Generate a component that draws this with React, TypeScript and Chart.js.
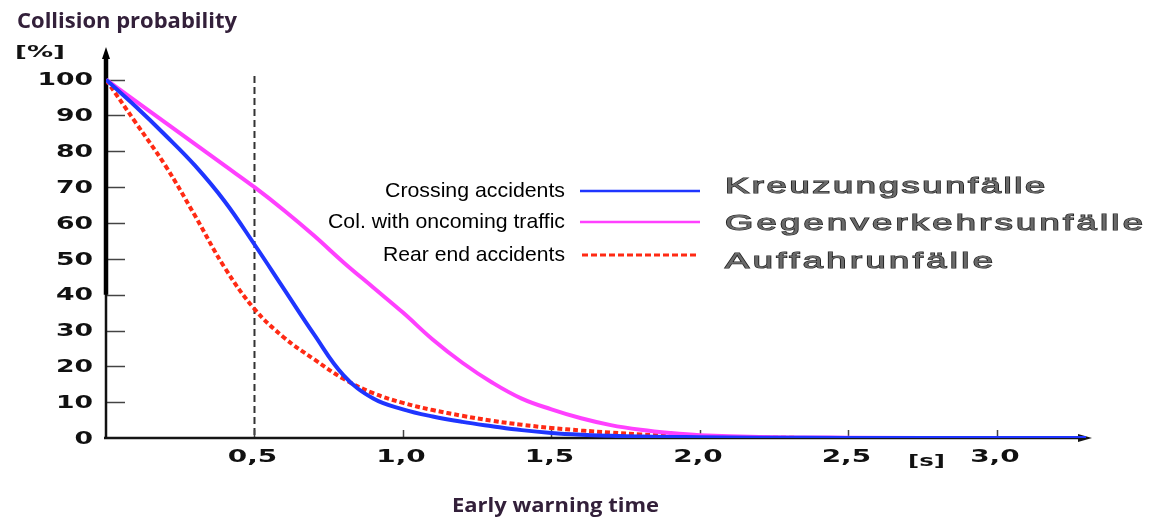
import React, { useEffect, useRef } from 'react';
import { Chart, registerables } from 'chart.js';

Chart.register(...registerables);

// ---- data ----
const timeSec = [0, 0.1, 0.2, 0.3, 0.4, 0.5, 0.6, 0.7, 0.8, 0.9, 1.0, 1.1, 1.2, 1.3, 1.4, 1.5, 1.6, 1.7, 1.8, 1.9, 2.0, 2.2, 2.5, 3.0, 3.3];
const crossingAccidents = [100, 92.5, 84.5, 76, 66, 54, 41.5, 29, 17.5, 11, 8, 6, 4.5, 3.3, 2.2, 1.4, 0.9, 0.6, 0.4, 0.3, 0.2, 0.1, 0, 0, 0];
const oncomingTraffic = [100, 94, 88, 82, 76, 70, 63.5, 56.5, 49, 42, 35, 27.5, 21, 15.5, 11, 8, 5.5, 3.6, 2.3, 1.4, 0.8, 0.3, 0.1, 0, 0];
const rearEndAccidents = [100, 88, 76, 62, 47.5, 36, 28, 22, 16.5, 12.5, 9.8, 7.8, 6.2, 4.8, 3.7, 2.8, 2.1, 1.5, 1.0, 0.6, 0.35, 0.1, 0, 0, 0];

const yTickValues = [0, 10, 20, 30, 40, 50, 60, 70, 80, 90, 100];
const yTickLabels = ['0', '10', '20', '30', '40', '50', '60', '70', '80', '90', '100'];
const xTickValues = [0.5, 1.0, 1.5, 2.0, 2.5, 3.0];
const xTickLabels = ['0,5', '1,0', '1,5', '2,0', '2,5', '3,0'];
const warningMark = 0.5;

const legendEnglish = ['Crossing accidents', 'Col. with oncoming traffic', 'Rear end accidents'];
const legendGerman = ['Kreuzungsunfälle', 'Gegenverkehrsunfälle', 'Auffahrunfälle'];

const chartTitle = 'Collision probability';
const xAxisTitle = 'Early warning time';
const yUnit = '[%]';
const xUnit = '[s]';

const X_MAX = 3.3;
const Y_MAX = 108;

function toPoints(values: number[]) {
  return timeSec.map((t, i) => ({ x: t, y: values[i] }));
}

function fitText(ctx: CanvasRenderingContext2D, text: string, left: number, y: number, width: number) {
  ctx.save();
  ctx.textAlign = 'left';
  const w = ctx.measureText(text).width;
  const s = width / w;
  ctx.translate(left, y);
  ctx.scale(s, 1);
  ctx.fillText(text, 0, 0);
  ctx.restore();
}

function spreadText(ctx: CanvasRenderingContext2D, text: string, left: number, y: number, width: number, scale: number) {
  ctx.save();
  ctx.textAlign = 'left';
  (ctx as any).letterSpacing = '0px';
  const w = ctx.measureText(text).width;
  const n = text.length;
  const ls = (width / scale - w) / (n - 1);
  (ctx as any).letterSpacing = ls.toFixed(2) + 'px';
  ctx.translate(left, y);
  ctx.scale(scale, 1);
  ctx.strokeText(text, 0, 0);
  ctx.fillText(text, 0, 0);
  ctx.restore();
}

function line(ctx: CanvasRenderingContext2D, x1: number, y1: number, x2: number, y2: number) {
  ctx.beginPath();
  ctx.moveTo(x1, y1);
  ctx.lineTo(x2, y2);
  ctx.stroke();
}

const decorPlugin = {
  id: 'decor',
  beforeDatasetsDraw(chart: any) {
    const ctx: CanvasRenderingContext2D = chart.ctx;
    const xs = chart.scales.x;
    const ys = chart.scales.y;
    const x0 = xs.getPixelForValue(0);
    const y0 = ys.getPixelForValue(0);
    const xEnd = xs.getPixelForValue(X_MAX);
    const yTop = ys.getPixelForValue(Y_MAX);
    ctx.save();

    // dashed marker
    const xm = xs.getPixelForValue(warningMark);
    ctx.strokeStyle = '#333';
    ctx.lineWidth = 2;
    ctx.setLineDash([7, 4]);
    line(ctx, xm, ys.getPixelForValue(101), xm, y0);
    ctx.setLineDash([]);

    // y ticks (inside)
    ctx.strokeStyle = '#444';
    ctx.lineWidth = 1.5;
    yTickValues.forEach((v) => {
      if (v === 0) return;
      const py = Math.round(ys.getPixelForValue(v)) + 0.5;
      line(ctx, x0, py, x0 + 19, py);
    });
    // x ticks (up)
    xTickValues.forEach((v) => {
      const px = Math.round(xs.getPixelForValue(v)) + 0.5;
      line(ctx, px, y0, px, y0 - 8);
    });

    // x axis
    ctx.strokeStyle = '#151515';
    ctx.lineWidth = 2.5;
    line(ctx, x0 - 2, y0, xEnd - 4, y0);
    ctx.fillStyle = '#151515';
    ctx.beginPath();
    ctx.moveTo(xEnd + 6, y0);
    ctx.lineTo(xEnd - 8, y0 - 4);
    ctx.lineTo(xEnd - 8, y0 + 4);
    ctx.closePath();
    ctx.fill();

    // y axis
    ctx.strokeStyle = '#111';
    ctx.lineWidth = 2.5;
    line(ctx, x0, y0 + 1, x0, yTop + 6);
    ctx.strokeStyle = '#000';
    ctx.lineWidth = 4.5;
    line(ctx, x0, ys.getPixelForValue(40), x0, yTop + 6);
    ctx.fillStyle = '#000';
    ctx.beginPath();
    ctx.moveTo(x0, yTop - 4);
    ctx.lineTo(x0 - 4, yTop + 8);
    ctx.lineTo(x0 + 4, yTop + 8);
    ctx.closePath();
    ctx.fill();
    ctx.restore();
  },
  afterDraw(chart: any) {
    const ctx: CanvasRenderingContext2D = chart.ctx;
    const xs = chart.scales.x;
    const ys = chart.scales.y;
    const x0 = xs.getPixelForValue(0);
    const y0 = ys.getPixelForValue(0);
    ctx.save();

    // y tick labels
    ctx.fillStyle = '#111';
    ctx.font = 'bold 18px "DejaVu Sans"';
    ctx.textBaseline = 'middle';
    yTickValues.forEach((v, i) => {
      const py = ys.getPixelForValue(v);
      ctx.save();
      ctx.translate(x0 - 13, py + 1);
      ctx.scale(1.48, 1);
      ctx.textAlign = 'right';
      ctx.fillText(yTickLabels[i], 0, 0);
      ctx.restore();
    });
    // x tick labels
    xTickValues.forEach((v, i) => {
      const px = xs.getPixelForValue(v);
      ctx.save();
      ctx.translate(px - 2, y0 + 19);
      ctx.scale(1.55, 1);
      ctx.textAlign = 'center';
      ctx.fillText(xTickLabels[i], 0, 0);
      ctx.restore();
    });
    // units
    ctx.font = 'bold 16px "DejaVu Sans"';
    fitText(ctx, yUnit, 15, 53, 50);
    fitText(ctx, xUnit, 908, y0 + 24, 37);

    // titles
    ctx.fillStyle = '#33203a';
    ctx.textBaseline = 'alphabetic';
    ctx.font = 'bold 21px "Open Sans"';
    fitText(ctx, chartTitle, 17, 28, 220);
    ctx.font = 'bold 20px "Open Sans"';
    fitText(ctx, xAxisTitle, 452, 512, 207);

    // legend: english labels
    ctx.fillStyle = '#000';
    ctx.textBaseline = 'middle';
    ctx.font = '21px "Liberation Sans"';
    const rowsY = [191, 222, 255];
    const engWidths = [180, 237, 182];
    legendEnglish.forEach((t, i) => {
      fitText(ctx, t, 565 - engWidths[i], rowsY[i], engWidths[i]);
    });
    // legend samples
    const colors = chart.data.datasets.map((d: any) => d.borderColor);
    ctx.lineWidth = 2.5;
    ctx.strokeStyle = colors[0];
    line(ctx, 580, rowsY[0], 700, rowsY[0]);
    ctx.strokeStyle = colors[1];
    line(ctx, 580, rowsY[1], 700, rowsY[1]);
    ctx.lineWidth = 3;
    ctx.strokeStyle = colors[2];
    ctx.setLineDash([6, 3]);
    line(ctx, 582, rowsY[2], 696, rowsY[2]);
    ctx.setLineDash([]);

    // german labels
    ctx.font = '22px "Liberation Sans"';
    ctx.fillStyle = '#6a6a6a';
    ctx.strokeStyle = '#1e1e1e';
    ctx.lineWidth = 1.1;
    const gerY = [187, 224, 262];
    const gerW = [320, 418, 268];
    legendGerman.forEach((t, i) => {
      spreadText(ctx, t, 725, gerY[i], gerW[i], 1.65);
    });
    ctx.restore();
  },
};

export default function App() {
  const canvasRef = useRef<HTMLCanvasElement | null>(null);

  useEffect(() => {
    const canvas = canvasRef.current;
    if (!canvas) return;
    const chart = new Chart(canvas, {
      type: 'line',
      data: {
        datasets: [
          {
            label: legendEnglish[0],
            data: toPoints(crossingAccidents),
            borderColor: '#1f35ff',
            borderWidth: 4,
            pointRadius: 0,
            tension: 0.4,
          },
          {
            label: legendEnglish[1],
            data: toPoints(oncomingTraffic),
            borderColor: '#ff40ff',
            borderWidth: 4,
            pointRadius: 0,
            tension: 0.4,
          },
          {
            label: legendEnglish[2],
            data: toPoints(rearEndAccidents),
            borderColor: '#ff2a14',
            borderWidth: 4,
            borderDash: [5, 3],
            pointRadius: 0,
            tension: 0.4,
          },
        ],
      },
      options: {
        animation: false,
        responsive: false,
        devicePixelRatio: 1,
        layout: { padding: { left: 106, right: 1149 - 1086, top: 51, bottom: 519 - 438 } },
        scales: {
          x: { type: 'linear', min: 0, max: X_MAX, display: false },
          y: { type: 'linear', min: 0, max: Y_MAX, display: false },
        },
        plugins: {
          legend: { display: false },
          tooltip: { enabled: false },
        },
      } as any,
      plugins: [decorPlugin],
    });
    return () => chart.destroy();
  }, []);

  return (
    <div style={{ position: 'fixed', left: 0, top: 0, width: 1149, height: 519, background: '#fff' }}>
      <canvas ref={canvasRef} width={1149} height={519} style={{ display: 'block' }} />
    </div>
  );
}
